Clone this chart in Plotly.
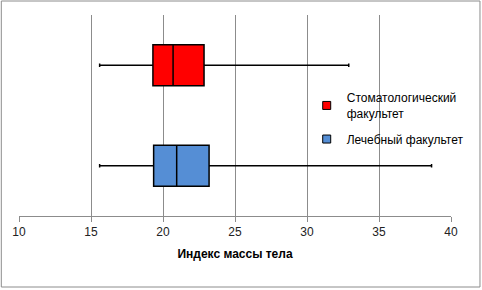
import plotly.graph_objects as go

names = ["Стоматологический<br>факультет", "Лечебный факультет"]
colors = ["#FF0000", "#558ED5"]
positions = [1, 0]
lower = [15.6, 15.6]
q1 = [19.3, 19.35]
median = [20.7, 20.95]
q3 = [22.85, 23.2]
upper = [32.9, 38.65]
xticks = [10, 15, 20, 25, 30, 35, 40]

FONT = "Liberation Sans"
fig = go.Figure()
for i in range(2):
    fig.add_trace(go.Box(
        name=names[i], y=[positions[i]], orientation="h",
        q1=[q1[i]], median=[median[i]], q3=[q3[i]],
        lowerfence=[lower[i]], upperfence=[upper[i]],
        fillcolor=colors[i], line=dict(color="black", width=1.5),
        width=0.41, whiskerwidth=0.08, boxpoints=False, hoverinfo="skip",
        showlegend=False, legendgroup=f"g{i}",
    ))
    # legend entry (square swatch)
    fig.add_trace(go.Scatter(
        name=names[i], x=[None], y=[None], mode="markers",
        marker=dict(symbol="square", size=8, color=colors[i],
                    line=dict(color="black", width=1)),
        legendgroup=f"g{i}", showlegend=True, hoverinfo="skip",
    ))

fig.update_layout(
    width=482, height=290,
    margin=dict(l=19, r=31, t=15, b=74),
    paper_bgcolor="white", plot_bgcolor="white",
    font=dict(family=FONT, size=11, color="black"),
    showlegend=True,
    legend=dict(x=0.666, y=0.66, xanchor="left", yanchor="top",
                bgcolor="rgba(0,0,0,0)", font=dict(size=12), itemwidth=30,
                traceorder="grouped", tracegroupgap=7),
    xaxis=dict(range=[10, 40], tickvals=xticks, ticktext=[str(v) for v in xticks],
               showgrid=True, gridcolor="#8C8C8C", gridwidth=1,
               showline=True, linecolor="#8C8C8C", linewidth=1,
               ticks="outside", ticklen=5, tickcolor="#8C8C8C",
               zeroline=False, tickfont=dict(size=12, color="#222"),
               title=dict(text="<b>Индекс массы тела</b>", font=dict(size=12), standoff=11)),
    yaxis=dict(range=[-0.5, 1.5], showgrid=False, showticklabels=False,
               zeroline=False, showline=False),
    shapes=[dict(type="rect", xref="paper", yref="paper",
                 x0=(1 - 18.7) / 432.3, x1=(480 - 18.7) / 432.3,
                 y0=(216 - 287) / 201, y1=(216 - 1) / 201,
                 line=dict(color="#8C8C8C", width=1), layer="below")],
)
fig.write_html("out.html", config={"displayModeBar": False},
               post_script="document.body.style.margin='0';document.body.style.overflow='hidden';")
